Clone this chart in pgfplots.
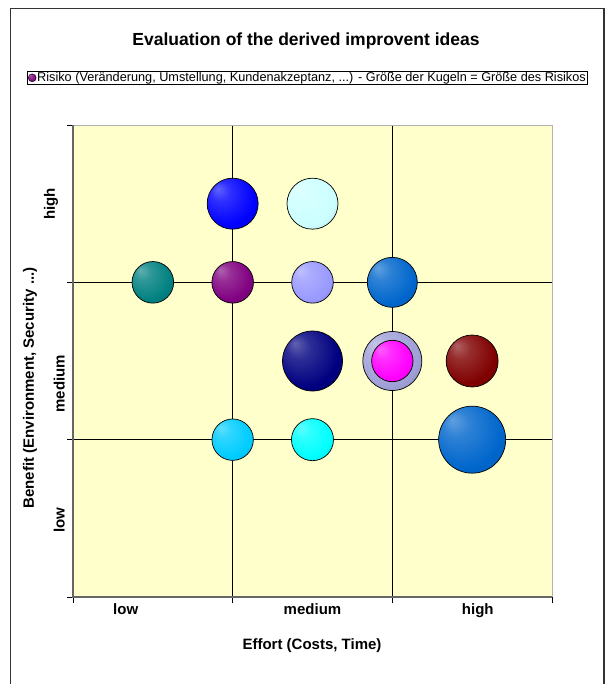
\documentclass[border=0pt]{standalone}
\usepackage{pgfplots}
\pgfplotsset{compat=1.18}
\usepackage{fontspec}
\setmainfont{Liberation Sans}
\makeatletter
\pgfdeclareradialshading[tikz@ball]{xlball}{\pgfqpoint{-15bp}{15bp}}{%
 color(0bp)=(tikz@ball!62!white); color(10bp)=(tikz@ball!82!white); color(28bp)=(tikz@ball); color(42bp)=(tikz@ball!85!black); color(50bp)=(tikz@ball!68!black)}
\makeatother
\pgfdeclareplotmark{xlball}{%
  \pgfpathcircle{\pgfpointorigin}{\pgfplotmarksize}%
  \pgfshadepath{xlball}{0}%
  \pgfusepath{discard}%
  \pgfpathcircle{\pgfpointorigin}{\pgfplotmarksize}%
  \pgfusepathqstroke}
\definecolor{bgyellow}{HTML}{FFFFCC}
\definecolor{cBlue}{HTML}{0000FF}
\definecolor{cPaleCyan}{HTML}{CCFFFF}
\definecolor{cTeal}{HTML}{008080}
\definecolor{cPurple}{HTML}{800080}
\definecolor{cLav}{HTML}{9999FF}
\definecolor{cMidBlue}{HTML}{0066CC}
\definecolor{cNavy}{HTML}{000080}
\definecolor{cRing}{HTML}{A0A0D8}
\definecolor{cMagenta}{HTML}{FF00FF}
\definecolor{cDarkRed}{HTML}{800000}
\definecolor{cSky}{HTML}{00CCFF}
\definecolor{cCyan}{HTML}{00FFFF}
\pgfplotsset{bub/.style 2 args={only marks, mark=xlball, mark size=#1,
  mark options={ball color=#2, draw=black, line width=0.7pt}, forget plot}}
\begin{document}
\begin{tikzpicture}
\useasboundingbox (0,0) rectangle (612pt,-684pt);
\fill[white] (0,0) rectangle (612pt,-684pt);
\draw[line width=1.2pt, black!80] (10.5pt,-690pt) -- (10.5pt,-8.5pt) -- (604pt,-8.5pt) -- (604pt,-690pt);
\begin{axis}[
  at={(73pt,-597pt)}, anchor=south west,
  width=479pt, height=472pt, scale only axis,
  xmin=0, xmax=6, ymin=0, ymax=6,
  clip=false,
  axis background/.style={fill=bgyellow},
  axis line style={draw=black!30, line width=0.6pt},
  xtick pos=bottom, ytick pos=left,
  xtick={0.66,3,5.07}, xticklabels={low,medium,{\raisebox{-6pt}{high}}},
  ytick={0.98,2.71,5.0}, yticklabels={low,medium,{\raisebox{10pt}{high}}},
  major tick length=0pt,
  extra x ticks={0,2,4,6}, extra x tick labels={},
  extra y ticks={0,2,4,6}, extra y tick labels={},
  extra tick style={major tick length=6pt, tick align=outside, tick style={black, line width=0.8pt}},
  minor xtick={2,4}, minor ytick={2,4}, minor tick length=0pt,
  xminorgrids=true, yminorgrids=true,
  minor grid style={black, line width=0.9pt},
  ticklabel style={font=\bfseries\fontsize{15}{18}\selectfont, inner sep=0pt},
  xticklabel style={anchor=north, yshift=-6pt},
  yticklabel style={rotate=90, anchor=south, yshift=8pt},
  xlabel={Effort (Costs, Time)},
  ylabel={Benefit (Environment, Security ...)},
  label style={font=\bfseries\fontsize{15}{18}\selectfont},
  xlabel style={at={(axis description cs:0.499,-0.104)}, anchor=center},
  ylabel style={at={(axis description cs:-0.0898,0.443)}, anchor=center},
  title={Evaluation of the derived improvent ideas},
  title style={font=\bfseries\fontsize{17.5}{20}\selectfont, at={(axis description cs:0.4864,1.178)}, anchor=center, yshift=-6pt},
  legend style={at={(axis description cs:0.4896,1.100)}, anchor=center, draw=black, line width=0.8pt,
    font=\fontsize{12.7}{14}\selectfont, inner xsep=1pt, inner ysep=0.5pt,
    nodes={inner sep=1pt}},
  legend cell align=left,
]
\draw[gray!80!black, line width=1.8pt] (axis description cs:0,1) -- (axis description cs:0,0) -- (axis description cs:1,0);
\addplot[bub={25.5pt}{cBlue}] coordinates {(2,5)};
\addplot[bub={25.5pt}{cPaleCyan}] coordinates {(3,5)};
\addplot[bub={20.8pt}{cTeal}] coordinates {(1,4)};
\addplot[bub={20.8pt}{cPurple}] coordinates {(2,4)};
\addplot[bub={20.8pt}{cLav}] coordinates {(3,4)};
\addplot[bub={25pt}{cMidBlue}] coordinates {(4,4)};
\addplot[bub={30pt}{cNavy}] coordinates {(3,3)};
\addplot[bub={29.5pt}{cRing}] coordinates {(4,3)};
\addplot[bub={20.7pt}{cMagenta}] coordinates {(4,3)};
\addplot[bub={26pt}{cDarkRed}] coordinates {(5,3)};
\addplot[bub={20.7pt}{cSky}] coordinates {(2,2)};
\addplot[bub={21pt}{cCyan}] coordinates {(3,2)};
\addplot[bub={33.5pt}{cMidBlue}] coordinates {(5,2)};
\addlegendimage{only marks, mark=xlball, mark size=4pt, mark options={ball color=cPurple, draw=black, line width=0.4pt}}
\addlegendentry{Risiko (Veränderung, Umstellung, Kundenakzeptanz, ...) - Größe der Kugeln = Größe des Risikos}
\end{axis}
\end{tikzpicture}
\end{document}
